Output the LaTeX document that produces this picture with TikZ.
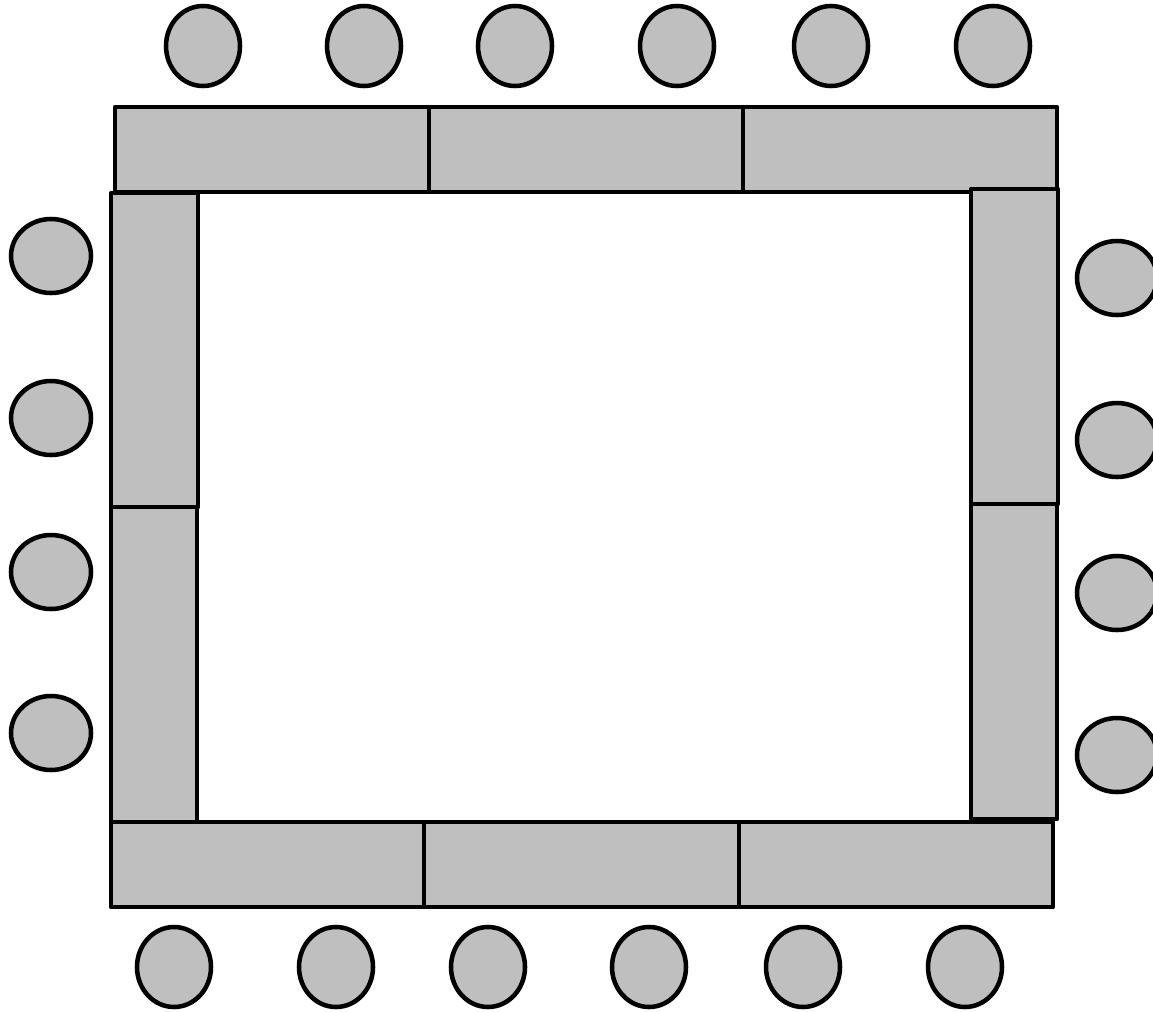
\documentclass[tikz,border=0pt]{standalone}
\begin{document}
\begin{tikzpicture}[x=0.75pt,y=-0.75pt,
  tablebox/.style={fill=black!25,draw=black,line width=3.4pt,line join=round},
  chair/.style={fill=black!25,draw=black,line width=3.4pt}]
\useasboundingbox (0,0) rectangle (1153,1011);
\clip (0,0) rectangle (1153,1011);
% top tables
\draw[tablebox] (115,107) rectangle (429,192);
\draw[tablebox] (429,107) rectangle (743,192);
\draw[tablebox] (743,107) rectangle (1057,192);
% left tables
\draw[tablebox] (111,193) rectangle (198,507);
\draw[tablebox] (111,507) rectangle (197,822);
% right tables
\draw[tablebox] (971,189) rectangle (1058,504);
\draw[tablebox] (971,504) rectangle (1057,819);
% bottom tables
\draw[tablebox] (111,822) rectangle (424,907);
\draw[tablebox] (424,822) rectangle (739,907);
\draw[tablebox] (739,822) rectangle (1053,907);
% top chairs
\foreach \x in {203,364,515,677,831,993}
  \draw[chair] (\x,46) ellipse [x radius=37, y radius=40];
% bottom chairs
\foreach \x in {174,336,488,649,803,965}
  \draw[chair] (\x,967) ellipse [x radius=37, y radius=40];
% left chairs
\foreach \y in {256,418,572,733}
  \draw[chair] (51,\y) ellipse [x radius=40, y radius=37];
% right chairs
\foreach \y in {278,440,593,755}
  \draw[chair] (1117,\y) ellipse [x radius=40, y radius=37];
\end{tikzpicture}
\end{document}
